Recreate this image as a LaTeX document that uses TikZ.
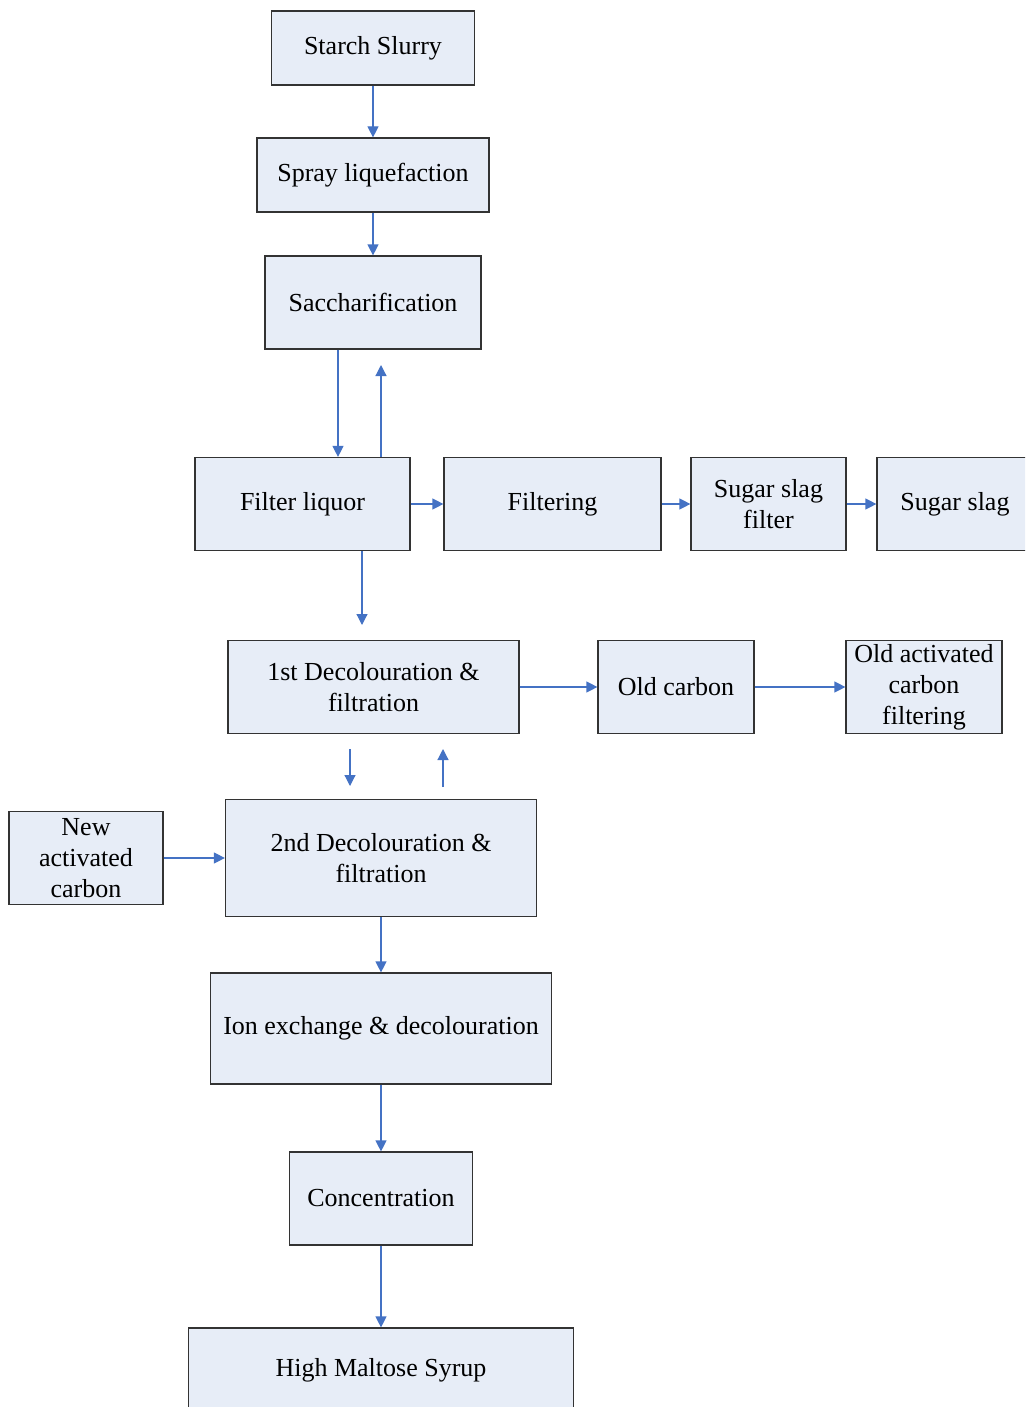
\documentclass[tikz,border=0pt]{standalone}
\usepackage{fontspec}
\setmainfont{Liberation Serif}
\usetikzlibrary{arrows.meta}
\definecolor{boxfill}{RGB}{231,237,247}
\definecolor{flowblue}{RGB}{68,114,196}

\begin{document}
\begin{tikzpicture}[%
      x=1pt, y=-1pt,
      box/.style={draw=black!80, fill=boxfill, line width=1.2pt, inner sep=0pt, align=center, font=\fontsize{26}{31}\selectfont},
      flow/.style={color=flowblue, line width=1.2pt, -{Triangle[length=11pt,width=11pt]}},
      ]
      \useasboundingbox (0,0) rectangle (1025,1407);
      \clip (0,0) rectangle (1025,1407);
      
      \node [box, minimum width=203pt, minimum height=74pt] (starch) at (373,48) {Starch Slurry};
      \node [box, minimum width=232pt, minimum height=74pt] (spray) at (373,175) {Spray liquefaction};
      \node [box, minimum width=216pt, minimum height=93pt] (sacch) at (373,302.5) {Saccharification};
      
      \node [box, minimum width=215pt, minimum height=93pt] (filter) at (302.5,504) {Filter liquor};
      \node [box, minimum width=217pt, minimum height=93pt] (filtering) at (552.5,504) {Filtering};
      \node [box, minimum width=155pt, minimum height=93pt] (slagfilter) at (768.5,504) {Sugar slag\\filter};
      \node [box, minimum width=156pt, minimum height=93pt] (slag) at (955,504) {Sugar slag};
      
      \node [box, minimum width=291pt, minimum height=93pt] (decol1) at (373.5,687) {1st Decolouration \&\\filtration};
      \node [box, minimum width=156pt, minimum height=93pt] (oldcarbon) at (676,687) {Old carbon};
      \node [box, minimum width=156pt, minimum height=93pt] (oldact) at (924,687) {Old activated\\carbon\\filtering};
      
      \node [box, minimum width=154pt, minimum height=93pt] (newcarbon) at (86,858) {New\\activated\\carbon};
      \node [box, minimum width=311pt, minimum height=117pt] (decol2) at (381,858) {2nd Decolouration \&\\filtration};
      \node [box, minimum width=341pt, minimum height=111pt] (ion) at (381,1028.5) {Ion exchange \& decolouration};
      \node [box, minimum width=183pt, minimum height=93pt] (conc) at (381,1198.5) {Concentration};
      \node [box, minimum width=385pt, minimum height=84pt] (syrup) at (381,1370) {High Maltose Syrup};
      
      \coordinate (backtip) at (381,365);
      \coordinate (downtip) at (362,625);
      \coordinate (midtop) at (350,749);
      \coordinate (midbot) at (350,786);
      \coordinate (uptail) at (443,787);
      \coordinate (uptip) at (443,749);
      
      \draw [flow] (starch.south) -- (spray.north);
      \draw [flow] (spray.south) -- (sacch.north);
      \draw [flow] ([xshift=-35pt]sacch.south) -- ([xshift=35.5pt]filter.north);
      \draw [flow] ([xshift=78.5pt]filter.north) -- (backtip);
      \draw [flow] (filter.east) -- (filtering.west);
      \draw [flow] (filtering.east) -- (slagfilter.west);
      \draw [flow] (slagfilter.east) -- (slag.west);
      \draw [flow] ([xshift=59.5pt]filter.south) -- (downtip);
      \draw [flow] (decol1.east) -- (oldcarbon.west);
      \draw [flow] (oldcarbon.east) -- (oldact.west);
      \draw [flow] (midtop) -- (midbot);
      \draw [flow] (uptail) -- (uptip);
      \draw [flow] (newcarbon.east) -- (decol2.west);
      \draw [flow] (decol2.south) -- (ion.north);
      \draw [flow] (ion.south) -- (conc.north);
      \draw [flow] (conc.south) -- (syrup.north);
      \end{tikzpicture}
\end{document}
